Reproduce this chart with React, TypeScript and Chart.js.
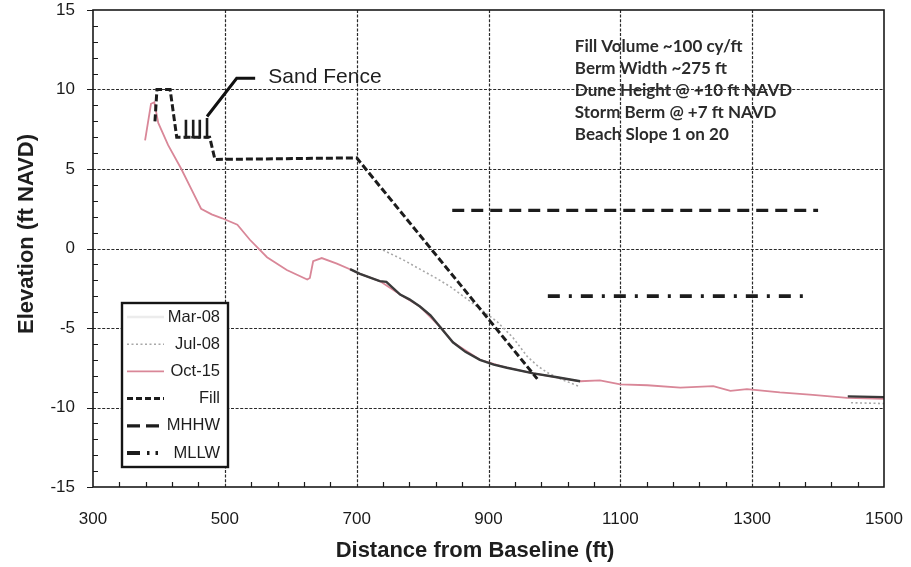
import React, { useEffect, useRef } from "react";
import { Chart, registerables } from "chart.js";

Chart.register(...registerables);

const FONT = '"Liberation Sans", Arial, Helvetica, sans-serif';
const NOTE_FONT = 'Lato, "Open Sans", sans-serif';

// axis ticks
const xTicks = [300, 500, 700, 900, 1100, 1300, 1500];
const yTicks = [-15, -10, -5, 0, 5, 10, 15];
const xMinorStep = 40;
const yMinorStep = 1;

// Mar-08 profile (dark solid)
const mar08X = [690, 705, 735, 745, 766, 780, 796, 812, 827, 846, 865, 887, 908, 928, 968, 1004, 1039, 1200, 1445, 1500];
const mar08Y = [-1.3, -1.6, -2.05, -2.1, -2.9, -3.2, -3.65, -4.2, -4.95, -5.9, -6.5, -7.0, -7.3, -7.5, -7.85, -8.1, -8.35, null, -9.3, -9.35];

// Jul-08 profile (light grey dotted)
const jul08X = [740, 770, 796, 820, 842, 865, 887, 913, 937, 959, 975, 989, 1009, 1039, 1200, 1450, 1500];
const jul08Y = [-0.1, -0.7, -1.3, -1.85, -2.4, -3.1, -3.8, -4.6, -5.6, -6.8, -7.4, -7.8, -8.2, -8.7, null, -9.7, -9.75];

// Oct-15 profile (pink solid)
const oct15X = [379, 388, 393, 399, 414, 434, 449, 464, 480, 496, 519, 538, 564, 594, 625, 629, 634, 647, 670, 695, 705, 735, 766, 796, 827, 846, 887, 928, 968, 1004, 1039, 1069, 1100, 1141, 1191, 1241, 1267, 1292, 1342, 1392, 1444, 1500];
const oct15Y = [6.8, 9.1, 9.2, 7.9, 6.5, 5.0, 3.75, 2.5, 2.15, 1.9, 1.5, 0.55, -0.55, -1.35, -1.95, -1.85, -0.8, -0.6, -0.95, -1.4, -1.6, -2.05, -2.9, -3.65, -4.95, -5.9, -7.0, -7.5, -7.85, -8.1, -8.35, -8.3, -8.55, -8.6, -8.75, -8.65, -8.95, -8.85, -9.05, -9.2, -9.4, -9.45];

// Fill template (short dashes)
const fillX = [394, 397, 417, 427, 477, 485, 700, 974];
const fillY = [8.0, 10, 10, 7, 7, 5.6, 5.7, -8.2];

// MHHW / MLLW
const mhhwX = [845, 1400];
const mhhwY = [2.4, 2.4];
const mllwX = [990, 1385];
const mllwY = [-3.0, -3.0];

// Sand fence posts and leader
const fenceX = [438, 441, 441, 445, 449, 452, 452, 456, 459, 462, 462, 466, 470, 473, 473];
const fenceY = [7, 7, 8.1, null, 7, 7, 8.1, null, 7, 7, 8.1, null, 7, 7, 8.2];
const leaderX = [473, 518, 546];
const leaderY = [8.3, 10.7, 10.7];
const sandFenceLabel = "Sand Fence";
const sandFenceAt = [566, 10.75];

const noteLines = [
  "Fill Volume ~100 cy/ft",
  "Berm Width ~275 ft",
  "Dune Height @ +10 ft NAVD",
  "Storm Berm @ +7 ft NAVD",
  "Beach Slope 1 on 20",
];
const noteAt = [1031, 12.7];

const xTitle = "Distance from Baseline (ft)";
const yTitle = "Elevation (ft NAVD)";

const PINK = "#d98798";

function pts(xs: number[], ys: (number | null)[]) {
  return xs.map((x, i) => ({ x, y: ys[i] }));
}

const decorPlugin = {
  id: "decor",
  beforeDatasetsDraw(chart: any) {
    const { ctx, chartArea: a, scales } = chart;
    const xs = scales.x, ys = scales.y;
    ctx.save();
    ctx.strokeStyle = "#2a2a2a";
    ctx.lineWidth = 1.2;
    ctx.setLineDash([3, 1.6]);
    for (const v of xTicks) {
      const px = Math.round(xs.getPixelForValue(v)) + 0.5;
      if (v === 300 || v === 1500) continue;
      ctx.beginPath();
      ctx.moveTo(px, a.top);
      ctx.lineTo(px, a.bottom);
      ctx.stroke();
    }
    for (const v of yTicks) {
      if (v === 15 || v === -15) continue;
      const py = Math.round(ys.getPixelForValue(v)) + 0.5;
      ctx.beginPath();
      ctx.moveTo(a.left, py);
      ctx.lineTo(a.right, py);
      ctx.stroke();
    }
    ctx.restore();
  },
  afterDatasetsDraw(chart: any) {
    const { ctx, chartArea: a, scales } = chart;
    const xs = scales.x, ys = scales.y;
    ctx.save();
    // frame
    ctx.setLineDash([]);
    ctx.strokeStyle = "#1a1a1a";
    ctx.lineWidth = 1.6;
    ctx.strokeRect(a.left, a.top, a.right - a.left, a.bottom - a.top);
    // minor ticks
    ctx.lineWidth = 1.2;
    ctx.beginPath();
    for (let v = -15; v <= 15; v += yMinorStep) {
      const py = Math.round(ys.getPixelForValue(v)) + 0.5;
      if (v % 5 === 0) {
        ctx.moveTo(a.left - 6, py);
        ctx.lineTo(a.left, py);
      } else {
        ctx.moveTo(a.left, py);
        ctx.lineTo(a.left + 5, py);
      }
    }
    for (let v = 300; v <= 1500; v += xMinorStep) {
      if ((v - 300) % 200 === 0) continue;
      const px = Math.round(xs.getPixelForValue(v)) + 0.5;
      ctx.moveTo(px, a.bottom);
      ctx.lineTo(px, a.bottom - 5);
    }
    ctx.stroke();

    // sand fence label
    ctx.fillStyle = "#1e1e1e";
    ctx.font = `21px ${FONT}`;
    ctx.textAlign = "left";
    ctx.textBaseline = "middle";
    ctx.fillText(sandFenceLabel, xs.getPixelForValue(sandFenceAt[0]), ys.getPixelForValue(sandFenceAt[1]));

    // notes
    ctx.fillStyle = "#2b2b2b";
    ctx.font = `bold 17px ${NOTE_FONT}`;
    const nx = xs.getPixelForValue(noteAt[0]);
    const ny = ys.getPixelForValue(noteAt[1]);
    noteLines.forEach((t, i) => ctx.fillText(t, nx, ny + i * 22));

    // legend
    const lx = a.left + 29, ly = a.top + 293, lw = 106, lh = 164;
    ctx.fillStyle = "#ffffff";
    ctx.fillRect(lx, ly, lw, lh);
    ctx.strokeStyle = "#151515";
    ctx.lineWidth = 2.4;
    ctx.strokeRect(lx, ly, lw, lh);
    const items = chart.data.datasets.filter((d: any) => d.legendOrder !== undefined)
      .sort((p: any, q: any) => p.legendOrder - q.legendOrder);
    ctx.font = `16.5px ${FONT}`;
    ctx.textAlign = "right";
    ctx.textBaseline = "middle";
    items.forEach((d: any, i: number) => {
      const ry = ly + 14 + i * 27.2;
      ctx.save();
      ctx.strokeStyle = d.legendColor || d.borderColor;
      ctx.lineWidth = d.borderWidth;
      ctx.setLineDash(d.legendDash || d.borderDash || []);
      ctx.beginPath();
      ctx.moveTo(lx + 5, ry);
      ctx.lineTo(lx + 42, ry);
      ctx.stroke();
      ctx.restore();
      ctx.fillStyle = "#1e1e1e";
      ctx.fillText(d.label, lx + lw - 8, ry);
    });

    // axis titles
    ctx.fillStyle = "#1e1e1e";
    ctx.font = `bold 22px ${FONT}`;
    ctx.textAlign = "center";
    ctx.textBaseline = "middle";
    ctx.fillText(xTitle, 475, 551);
    ctx.translate(27, 234);
    ctx.rotate(-Math.PI / 2);
    ctx.fillText(yTitle, 0, 0);
    ctx.restore();
  },
};

export default function App() {
  const ref = useRef<HTMLCanvasElement | null>(null);
  useEffect(() => {
    if (!ref.current) return;
    const line = (extra: any) => ({
      pointRadius: 0,
      tension: 0,
      fill: false,
      spanGaps: false,
      ...extra,
    });
    const chart = new Chart(ref.current, {
      type: "line",
      data: {
        datasets: [
          line({ label: "Fill", legendOrder: 3, data: pts(fillX, fillY), borderColor: "#1c1c1c", borderWidth: 3, borderDash: [7, 3], legendDash: [6, 3] }),
          line({ label: "MHHW", legendOrder: 4, data: pts(mhhwX, mhhwY), borderColor: "#1c1c1c", borderWidth: 3.2, borderDash: [12, 7], legendDash: [13, 6] }),
          line({ label: "MLLW", legendOrder: 5, data: pts(mllwX, mllwY), borderColor: "#1c1c1c", borderWidth: 3.8, borderDash: [12, 9, 3, 9], legendDash: [13, 7, 2.5, 6, 2.5, 6] }),
          line({ label: "Sand Fence posts", data: pts(fenceX, fenceY), borderColor: "#1c1c1c", borderWidth: 2.6 }),
          line({ label: "Sand Fence leader", data: pts(leaderX, leaderY), borderColor: "#111", borderWidth: 3 }),
          line({ label: "Mar-08", legendOrder: 0, data: pts(mar08X, mar08Y), borderColor: "#3a3a3a", borderWidth: 2.4, legendColor: "#ececec" }),
          line({ label: "Oct-15", legendOrder: 2, data: pts(oct15X, oct15Y), borderColor: PINK, borderWidth: 1.8 }),
          line({ label: "Jul-08", legendOrder: 1, data: pts(jul08X, jul08Y), borderColor: "#a8a8a8", borderWidth: 1.6, borderDash: [2, 2.5] }),
        ],
      },
      options: {
        animation: false,
        responsive: false,
        maintainAspectRatio: false,
        layout: { padding: { left: 0, right: 27, top: 10, bottom: 0 } },
        plugins: {
          legend: { display: false },
          tooltip: { enabled: false },
          title: { display: false },
        },
        scales: {
          x: {
            type: "linear",
            min: 300,
            max: 1500,
            afterBuildTicks: (s: any) => { s.ticks = xTicks.map((v) => ({ value: v })); },
            afterFit: (s: any) => { s.height = 80; s.paddingLeft = 0; s.paddingRight = 0; },
            grid: { display: false, drawTicks: false },
            border: { display: false },
            ticks: {
              padding: 22,
              color: "#1a1a1a",
              font: { family: FONT, size: 17 },
              maxRotation: 0,
              autoSkip: false,
              callback: (v: any) => String(v),
            },
          },
          y: {
            type: "linear",
            min: -15,
            max: 15,
            afterBuildTicks: (s: any) => { s.ticks = yTicks.map((v) => ({ value: v })); },
            afterFit: (s: any) => { s.width = 93; s.paddingTop = 0; s.paddingBottom = 0; },
            grid: { display: false, drawTicks: false },
            border: { display: false },
            ticks: {
              padding: 18,
              color: "#1a1a1a",
              font: { family: FONT, size: 17 },
              autoSkip: false,
              callback: (v: any) => String(v),
            },
          },
        },
      },
      plugins: [decorPlugin],
    } as any);
    return () => chart.destroy();
  }, []);
  return (
    <div style={{ position: "absolute", left: 0, top: 0, width: 911, height: 567, background: "#fff" }}>
      <canvas ref={ref} width={911} height={567} style={{ display: "block" }} />
    </div>
  );
}
